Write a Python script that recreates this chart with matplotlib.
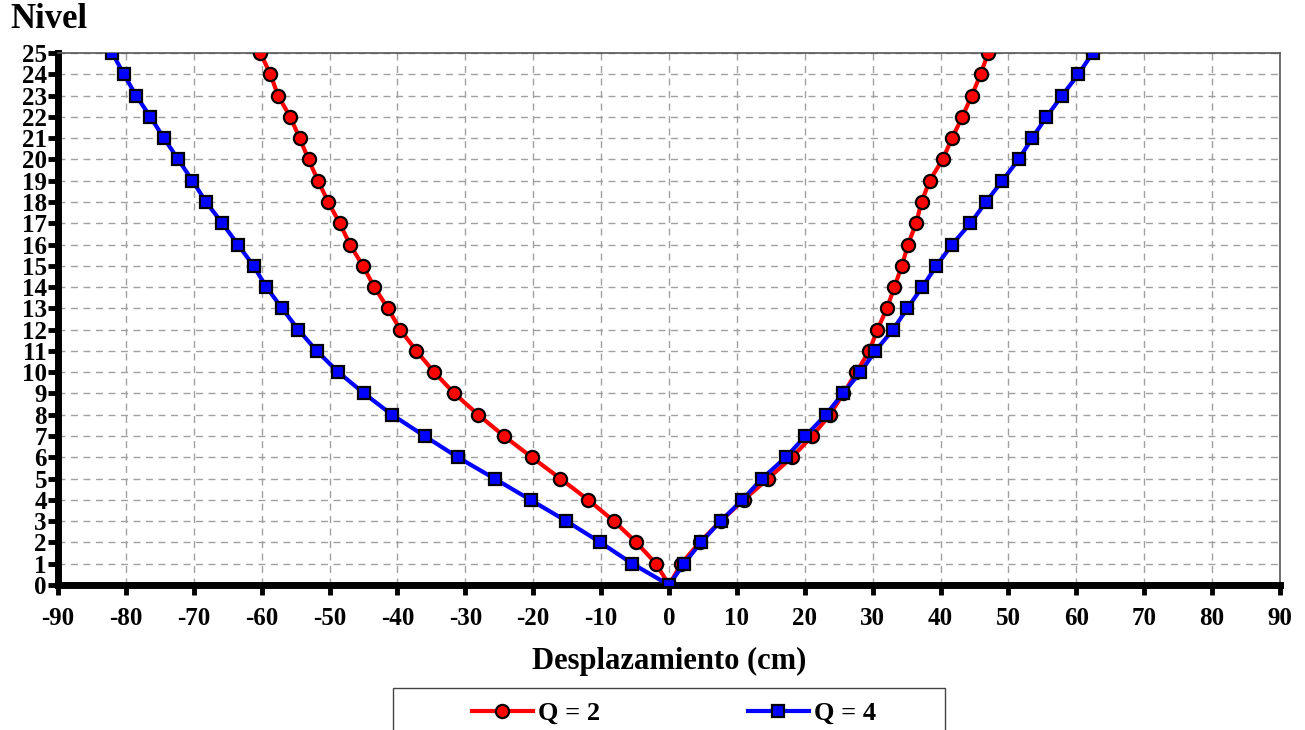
"""
Perfil de desplazamientos por nivel para Q = 2 y Q = 4.
"""
import matplotlib

matplotlib.use("Agg")
import matplotlib.pyplot as plt
from matplotlib.patches import Rectangle
from matplotlib.ticker import MultipleLocator

plt.rcParams["axes.unicode_minus"] = False

niveles = list(range(0, 26))

# Q = 2, rama negativa y positiva (nivel 0 .. 25)
q2_neg = [0, -1.9, -4.8, -8.1, -11.9, -16.0, -20.2, -24.3, -28.1, -31.6, -34.6,
          -37.2, -39.6, -41.4, -43.4, -45.1, -47.0, -48.5, -50.2, -51.7, -53.1,
          -54.4, -55.8, -57.6, -58.7, -60.2]
q2_pos = [0, 1.8, 4.5, 7.6, 11.0, 14.6, 18.1, 21.1, 23.7, 25.7, 27.6,
          29.5, 30.7, 32.1, 33.2, 34.3, 35.2, 36.4, 37.2, 38.4, 40.3,
          41.7, 43.2, 44.6, 45.9, 47.0]

# Q = 4
q4_neg = [0, -5.4, -10.1, -15.1, -20.4, -25.7, -31.1, -36.0, -40.8, -44.9, -48.7,
          -51.9, -54.6, -57.0, -59.3, -61.2, -63.5, -65.8, -68.2, -70.2, -72.3,
          -74.4, -76.4, -78.5, -80.3, -82.0]
q4_pos = [0, 2.2, 4.7, 7.6, 10.8, 13.7, 17.2, 20.1, 23.1, 25.6, 28.2,
          30.4, 33.0, 35.1, 37.3, 39.4, 41.7, 44.4, 46.7, 49.1, 51.5,
          53.5, 55.6, 57.9, 60.3, 62.4]

x_ticks = list(range(-90, 91, 10))

FONT = "Liberation Serif"
W, H = 1305, 730

fig = plt.figure(figsize=(W / 100, H / 100), dpi=100)
ax = fig.add_axes([58 / W, 145 / H, 1222 / W, 532 / H])


def perfil(neg, pos):
    # recorre la rama negativa de arriba hacia abajo y sube por la positiva
    xs = neg[::-1] + pos[1:]
    ys = niveles[::-1] + niveles[1:]
    return xs, ys


x2, y2 = perfil(q2_neg, q2_pos)
x4, y4 = perfil(q4_neg, q4_pos)

ax.plot(x2, y2, color="#ff0000", lw=3, marker="o", ms=9.5,
        mfc="#ff0000", mec="black", mew=1.6, label="Q = 2", zorder=3)
ax.plot(x4, y4, color="#0000ff", lw=3, marker="s", ms=9,
        mfc="#0000ff", mec="black", mew=1.6, label="Q = 4", zorder=4)

ax.set_xlim(-90, 90)
ax.set_ylim(0, 25)
ax.set_xticks(x_ticks)
ax.yaxis.set_major_locator(MultipleLocator(1))
ax.grid(True, color="#a0a0a0", ls=(0, (5, 4)), lw=1)
ax.set_axisbelow(True)

for side in ("top", "right"):
    ax.spines[side].set_color("#555555")
    ax.spines[side].set_linewidth(1.2)
for side in ("left", "bottom"):
    ax.spines[side].set_color("black")
    ax.spines[side].set_linewidth(5)

ax.tick_params(axis="both", which="major", length=7, width=3.5, color="black",
               direction="out")
ax.tick_params(axis="y", pad=1)
ax.tick_params(axis="x", pad=9)

for lab in ax.get_xticklabels() + ax.get_yticklabels():
    lab.set_fontfamily(FONT)
    lab.set_fontweight("bold")
    lab.set_fontsize(18)

ax.set_xlabel("Desplazamiento (cm)", fontfamily=FONT, fontweight="bold",
              fontsize=22, labelpad=12)
fig.text(10 / W, 1 - 20 / H, "Nivel", fontfamily=FONT, fontweight="bold",
         fontsize=25, va="center", ha="left")

# recuadro de la leyenda (estilo Excel, ancho y cortado abajo)
fig.patches.append(Rectangle((393 / W, -0.05), (945 - 393) / W, 0.05 + 1 - 688 / H,
                             transform=fig.transFigure, fill=False,
                             edgecolor="#444444", lw=1))
fig.legend(loc="center", bbox_to_anchor=(674 / W, 1 - 713 / H), ncol=2,
           frameon=False, prop={"family": FONT, "weight": "bold", "size": 19},
           handlelength=2.3, columnspacing=5.6, handletextpad=0.2)

fig.savefig("out.png", dpi=100)
